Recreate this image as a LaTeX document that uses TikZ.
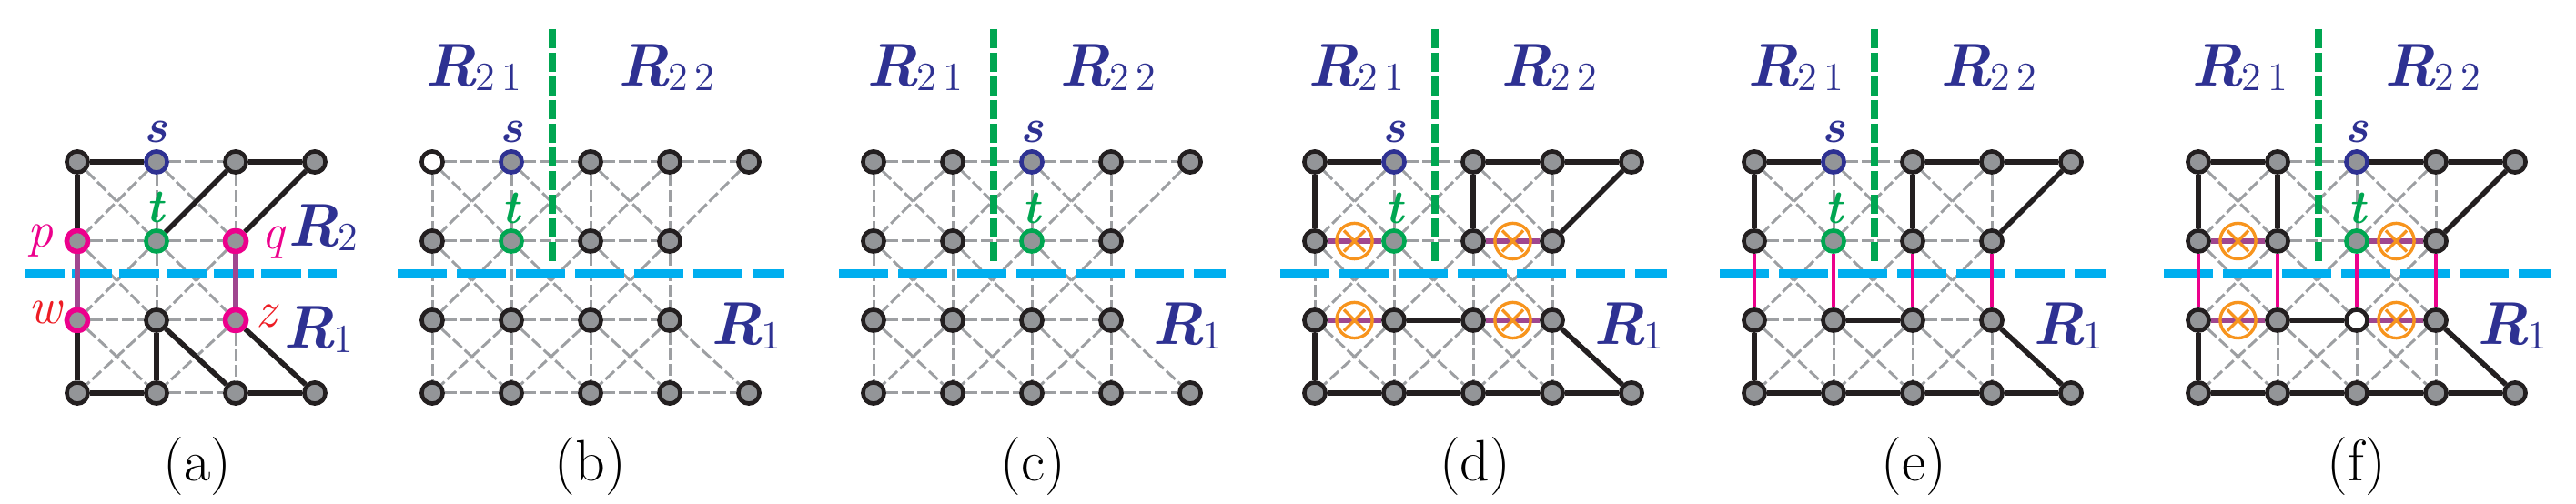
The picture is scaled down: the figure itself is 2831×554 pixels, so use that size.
\documentclass[tikz,border=0pt]{standalone}
\usetikzlibrary{calc}
\definecolor{ngray}{HTML}{939598}
\definecolor{blk}{HTML}{231F20}
\definecolor{navy}{HTML}{2E3192}
\definecolor{grn}{HTML}{00A651}
\definecolor{cyanb}{HTML}{00AEEF}
\definecolor{mag}{HTML}{EC008C}
\definecolor{purp}{HTML}{A0468F}
\definecolor{redw}{HTML}{ED1C24}
\definecolor{orng}{HTML}{F7941D}
\definecolor{gedge}{HTML}{9D9FA2}
\tikzset{
 v/.style={circle,draw=blk,fill=ngray,line width=1.15pt,minimum size=5.8pt,inner sep=0pt},
 sv/.style={draw=navy},
 tv/.style={draw=grn},
 wv/.style={fill=white},
 mv/.style={draw=mag,line width=1.4pt},
 ge/.style={draw=gedge,line width=0.75pt,dash pattern=on 3.3pt off 1pt},
 be/.style={draw=blk,line width=1.4pt},
 pe/.style={draw=purp,line width=1.4pt},
 me/.style={draw=mag,line width=1.15pt},
 bl/.style={draw=cyanb,line width=2.5pt,dash pattern=on 13.5pt off 2.75pt},
 gl/.style={draw=grn,line width=2.1pt,dash pattern=on 5.3pt off 1.2pt},
 ox/.style={circle,draw=orng,line width=0.85pt,minimum size=9.8pt,inner sep=0pt,
   path picture={\draw[orng,line width=0.85pt]
     ([shift={(-2.9pt,-2.9pt)}]path picture bounding box.center)--([shift={(2.9pt,2.9pt)}]path picture bounding box.center)
     ([shift={(-2.9pt,2.9pt)}]path picture bounding box.center)--([shift={(2.9pt,-2.9pt)}]path picture bounding box.center);}},
 rl/.style={text=navy,inner sep=0pt},
 stl/.style={text=navy,inner sep=0pt,font=\fontsize{13}{13}\selectfont\bfseries\itshape},
 ttl/.style={text=grn,inner sep=0pt,font=\fontsize{13}{13}\selectfont\bfseries\itshape},
 capt/.style={inner sep=0pt,font=\fontsize{16}{16}\selectfont},
 sty-a10/.style={sv}, sty-a11/.style={tv},
 sty-a01/.style={mv}, sty-a21/.style={mv}, sty-a02/.style={mv}, sty-a22/.style={mv},
 sty-b00/.style={wv}, sty-b10/.style={sv}, sty-b11/.style={tv},
 sty-c20/.style={sv}, sty-c21/.style={tv},
 sty-d10/.style={sv}, sty-d11/.style={tv},
 sty-e10/.style={sv}, sty-e11/.style={tv},
 sty-f20/.style={sv}, sty-f21/.style={tv}, sty-f22/.style={wv},
}
\newcommand\Rlab[1]{{\fontsize{16.6}{16.6}\selectfont\bfseries\itshape R}\kern-0.5pt\raisebox{-0.12em}{\fontsize{11}{11}\selectfont #1}}
\newcommand\fullgrid[2]{%
 \foreach \i in {0,...,4}{\node[v,/tikz/sty-#1\i0/.try] (#1\i0) at ({#2+87*\i},178) {};
   \node[v,/tikz/sty-#1\i3/.try] (#1\i3) at ({#2+87*\i},432) {};}
 \foreach \i in {0,...,3}{\node[v,/tikz/sty-#1\i1/.try] (#1\i1) at ({#2+87*\i},265) {};
   \node[v,/tikz/sty-#1\i2/.try] (#1\i2) at ({#2+87*\i},352) {};}
 \foreach \i/\k in {0/1,1/2,2/3,3/4}{\draw[ge] (#1\i0)--(#1\k0); \draw[ge] (#1\i3)--(#1\k3);}
 \foreach \i/\k in {0/1,1/2,2/3}{\draw[ge] (#1\i1)--(#1\k1); \draw[ge] (#1\i2)--(#1\k2);}
 \foreach \i in {0,...,3}{\draw[ge] (#1\i0)--(#1\i1); \draw[ge] (#1\i1)--(#1\i2); \draw[ge] (#1\i2)--(#1\i3);}
 \foreach \i/\k in {0/1,1/2,2/3}{\foreach \j/\l in {0/1,1/2,2/3}{\draw[ge] (#1\i\j)--(#1\k\l); \draw[ge] (#1\k\j)--(#1\i\l);}}
 \draw[ge] (#140)--(#131); \draw[ge] (#132)--(#143);
 \coordinate (#1bl1) at ({#2-38},301); \coordinate (#1bl2) at ({#2+387},301);
 \draw[bl] (#1bl1)--(#1bl2);
 \coordinate (#1gl1) at ({#2+132},32); \coordinate (#1gl2) at ({#2+132},287);
 \draw[gl] (#1gl1)--(#1gl2);
 \node[rl] (#1r21) at ({#2+45},74) {\Rlab{2\,1}};
 \node[rl] (#1r22) at ({#2+257},74) {\Rlab{2\,2}};
 \node[rl] (#1r1) at ({#2+345},358) {\Rlab{1}};
}
\newcommand\oxe[3]{\draw[pe] (#1)--(#2); \node[ox] (#3) at ($(#1)!0.5!(#2)$) {};}
\begin{document}
\begin{tikzpicture}[x=0.25pt,y=-0.25pt]
\useasboundingbox (0,0) rectangle (2831,554);
% ---------- (a)
\foreach \i in {0,...,3}{\node[v,/tikz/sty-a\i0/.try] (a\i0) at ({85+87*\i},178) {};
  \node[v,/tikz/sty-a\i3/.try] (a\i3) at ({85+87*\i},432) {};}
\foreach \i in {0,...,2}{\node[v,/tikz/sty-a\i1/.try] (a\i1) at ({85+87*\i},265) {};
  \node[v,/tikz/sty-a\i2/.try] (a\i2) at ({85+87*\i},352) {};}
\foreach \i/\k in {0/1,1/2,2/3}{\draw[ge] (a\i0)--(a\k0); \draw[ge] (a\i3)--(a\k3);}
\foreach \i/\k in {0/1,1/2}{\draw[ge] (a\i1)--(a\k1); \draw[ge] (a\i2)--(a\k2);}
\foreach \i in {0,...,2}{\draw[ge] (a\i0)--(a\i1); \draw[ge] (a\i1)--(a\i2); \draw[ge] (a\i2)--(a\i3);}
\foreach \i/\k in {0/1,1/2}{\foreach \j/\l in {0/1,1/2,2/3}{\draw[ge] (a\i\j)--(a\k\l); \draw[ge] (a\k\j)--(a\i\l);}}
\draw[ge] (a30)--(a21); \draw[ge] (a22)--(a33);
\coordinate (abl1) at (27,301); \coordinate (abl2) at (370,301);
\draw[bl,dash pattern=on 11pt off 2pt] (abl1)--(abl2);
\draw[pe] (a01)--(a02); \draw[pe] (a21)--(a22);
\foreach \p/\q in {a00/a10,a00/a01,a11/a20,a20/a30,a30/a21,a02/a03,a03/a13,a12/a13,a12/a23,a23/a33,a22/a33}{\draw[be] (\p)--(\q);}
\node[stl] (as) at (171,145) {s};
\node[ttl] (at) at (171,228) {t};
\node[inner sep=0pt,text=mag,font=\fontsize{14}{14}\selectfont\itshape] (ap) at (45,265) {p};
\node[inner sep=0pt,text=mag,font=\fontsize{14}{14}\selectfont\itshape] (aq) at (300,267) {q};
\node[inner sep=0pt,text=redw,font=\fontsize{14}{14}\selectfont\itshape] (aw) at (50,343) {w};
\node[inner sep=0pt,text=redw,font=\fontsize{14}{14}\selectfont\itshape] (az) at (293,347) {z};
\node[rl] (aR2) at (355,250) {\Rlab{2}};
\node[rl] (aR1) at (350,362) {\Rlab{1}};
\node[capt] (acap) at (217,513) {(a)};
% ---------- (b)
\fullgrid{b}{475}
\node[stl] (bs) at (562,145) {s};
\node[ttl] (bt) at (562,229) {t};
\node[capt] (bcap) at (649,513) {(b)};
% ---------- (c)
\fullgrid{c}{960}
\node[stl] (cs) at (1134,145) {s};
\node[ttl] (ct) at (1134,229) {t};
\node[capt] (ccap) at (1135,513) {(c)};
% ---------- (d)
\fullgrid{d}{1445}
\foreach \p/\q in {d00/d10,d00/d01,d20/d30,d30/d40,d20/d21,d40/d31,d12/d22,d32/d43,d02/d03,d03/d13,d13/d23,d23/d33,d33/d43}{\draw[be] (\p)--(\q);}
\oxe{d01}{d11}{dx1}\oxe{d21}{d31}{dx2}\oxe{d02}{d12}{dx3}\oxe{d22}{d32}{dx4}
\node[stl] (ds) at (1532,145) {s};
\node[ttl] (dt) at (1532,229) {t};
\node[capt] (dcap) at (1621,513) {(d)};
% ---------- (e)
\fullgrid{e}{1928}
\foreach \p/\q in {e00/e10,e00/e01,e20/e30,e30/e40,e20/e21,e40/e31,e12/e22,e32/e43,e02/e03,e03/e13,e13/e23,e23/e33,e33/e43}{\draw[be] (\p)--(\q);}
\foreach \i in {0,...,3}{\draw[me] (e\i1)--(e\i2);}
\node[stl] (es) at (2015,145) {s};
\node[ttl] (et) at (2015,229) {t};
\node[capt] (ecap) at (2103,513) {(e)};
% ---------- (f)
\fullgrid{f}{2416}
\foreach \p/\q in {f00/f10,f00/f01,f10/f11,f20/f30,f30/f40,f40/f31,f12/f22,f32/f43,f02/f03,f03/f13,f13/f23,f23/f33,f33/f43}{\draw[be] (\p)--(\q);}
\foreach \i in {0,...,3}{\draw[me] (f\i1)--(f\i2);}
\oxe{f01}{f11}{fx1}\oxe{f21}{f31}{fx2}\oxe{f02}{f12}{fx3}\oxe{f22}{f32}{fx4}
\node[stl] (fs) at (2590,145) {s};
\node[ttl] (ft) at (2590,229) {t};
\node[capt] (fcap) at (2590,513) {(f)};
\end{tikzpicture}
\end{document}
